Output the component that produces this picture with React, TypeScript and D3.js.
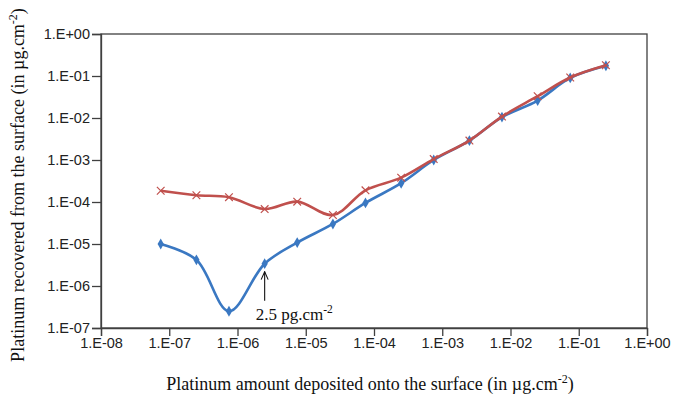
import { useRef, useEffect } from 'react'
import * as d3 from 'd3'

// deposited amount (µg.cm-2)
const deposited = [7.5e-8, 2.5e-7, 7.5e-7, 2.5e-6, 7.5e-6, 2.5e-5, 7.5e-5, 2.5e-4, 7.5e-4, 2.5e-3, 7.5e-3, 2.5e-2, 7.5e-2, 2.5e-1]
// recovered, blue series (diamonds)
const recoveredBlue = [1.0e-5, 4.2e-6, 2.5e-7, 3.4e-6, 1.08e-5, 3.0e-5, 9.5e-5, 2.8e-4, 1.0e-3, 2.9e-3, 1.05e-2, 2.6e-2, 9.0e-2, 1.75e-1]
// recovered, red series (crosses)
const recoveredRed = [1.85e-4, 1.45e-4, 1.3e-4, 6.8e-5, 1.02e-4, 4.9e-5, 1.9e-4, 3.8e-4, 1.05e-3, 2.9e-3, 1.08e-2, 3.3e-2, 9.2e-2, 1.8e-1]
const xTicks = [1e-8, 1e-7, 1e-6, 1e-5, 1e-4, 1e-3, 1e-2, 1e-1, 1]
const yTicks = [1e-7, 1e-6, 1e-5, 1e-4, 1e-3, 1e-2, 1e-1, 1]

const fmt = (v: number) => {
  const e = Math.round(Math.log10(v))
  const s = e < 0 ? '-' : '+'
  return `1.E${s}${String(Math.abs(e)).padStart(2, '0')}`
}

export default function App() {
  const svgRef = useRef<SVGSVGElement | null>(null)

  useEffect(() => {
    if (!svgRef.current) return
    const svg = d3.select(svgRef.current)
    svg.selectAll('*').remove()

    const left = 101, right = 647, top = 34, bottom = 328
    const x = d3.scaleLog().domain([1e-8, 1]).range([left, right])
    const y = d3.scaleLog().domain([1e-7, 1]).range([bottom, top])

    // frame
    svg.append('rect').attr('x', left).attr('y', top)
      .attr('width', right - left).attr('height', bottom - top)
      .attr('fill', 'none').attr('stroke', '#404040').attr('stroke-width', 1.3)

    const tickFont = 'Liberation Sans, Arial, sans-serif'
    const gy = svg.append('g').attr('transform', `translate(${left},0)`)
      .call(d3.axisLeft(y).tickValues(yTicks).tickFormat(d => fmt(+d)).tickSize(9).tickPadding(2))
    gy.select('.domain').attr('stroke', '#404040').attr('stroke-width', 1.3)
    gy.selectAll('line').attr('stroke', '#404040').attr('stroke-width', 1.3)
    gy.selectAll('text').attr('font-size', '14.5px').attr('font-family', tickFont).attr('fill', '#222')

    const gx = svg.append('g').attr('transform', `translate(0,${bottom})`)
      .call(d3.axisBottom(x).tickValues(xTicks).tickFormat(d => fmt(+d)).tickSize(8).tickPadding(2))
    gx.select('.domain').attr('stroke', '#404040').attr('stroke-width', 1.3)
    gx.selectAll('line').attr('stroke', '#404040').attr('stroke-width', 1.3)
    gx.selectAll('text').attr('font-size', '14.5px').attr('font-family', tickFont).attr('fill', '#222')

    const curve = d3.curveCatmullRom.alpha(0.5)
    const blue = '#3a78c2'
    const red = '#c0504d'

    // blue series
    const blueLine = d3.line<number>().x((_, i) => x(deposited[i])).y(d => y(d)).curve(curve)
    svg.append('path').datum(recoveredBlue).attr('d', blueLine)
      .attr('fill', 'none').attr('stroke', blue).attr('stroke-width', 2.6)
    const diamond = d3.symbol().type(d3.symbolDiamond).size(34)
    recoveredBlue.forEach((v, i) => {
      svg.append('path').attr('d', diamond()!)
        .attr('transform', `translate(${x(deposited[i])},${y(v)})`)
        .attr('fill', blue)
    })

    // red series
    const redLine = d3.line<number>().x((_, i) => x(deposited[i])).y(d => y(d)).curve(curve)
    svg.append('path').datum(recoveredRed).attr('d', redLine)
      .attr('fill', 'none').attr('stroke', red).attr('stroke-width', 2.6)
    const cross = d3.symbol().type(d3.symbolX).size(40)
    recoveredRed.forEach((v, i) => {
      svg.append('path').attr('d', cross()!)
        .attr('transform', `translate(${x(deposited[i])},${y(v)})`)
        .attr('fill', 'none').attr('stroke', red).attr('stroke-width', 1.2)
    })

    // annotation arrow at 2.5 pg.cm-2
    const ax = x(deposited[3])
    const ay = y(recoveredBlue[3])
    svg.append('defs').append('marker').attr('id', 'arr')
      .attr('viewBox', '0 0 10 10').attr('refX', 9).attr('refY', 5)
      .attr('markerWidth', 8).attr('markerHeight', 8).attr('orient', 'auto')
      .append('path').attr('d', 'M0,1 L9,5 L0,9').attr('fill', 'none').attr('stroke', '#111').attr('stroke-width', 1.2)
    svg.append('line').attr('x1', ax).attr('x2', ax).attr('y1', ay + 37).attr('y2', ay + 8)
      .attr('stroke', '#111').attr('stroke-width', 1.1).attr('marker-end', 'url(#arr)')
    const serif = 'Liberation Serif, Times New Roman, serif'
    const ann = svg.append('text').attr('x', ax - 9).attr('y', ay + 56)
      .attr('font-family', serif).attr('font-size', '17px').attr('fill', '#111')
    ann.append('tspan').text('2.5 pg.cm')
    ann.append('tspan').attr('dy', -7).attr('font-size', '11.5px').text('-2')

    // axis titles
    const xt = svg.append('text').attr('x', 370).attr('y', 390).attr('text-anchor', 'middle')
      .attr('font-family', serif).attr('font-size', '18px').attr('fill', '#111')
    xt.append('tspan').text('Platinum amount deposited onto the surface (in µg.cm')
    xt.append('tspan').attr('dy', -7).attr('font-size', '12px').text('-2')
    xt.append('tspan').attr('dy', 7).text(')')

    const yt = svg.append('text').attr('transform', 'rotate(-90)')
      .attr('x', -185).attr('y', 24).attr('text-anchor', 'middle')
      .attr('font-family', serif).attr('font-size', '18px').attr('fill', '#111')
    yt.append('tspan').text('Platinum recovered from the surface (in µg.cm')
    yt.append('tspan').attr('dy', -7).attr('font-size', '12px').text('-2')
    yt.append('tspan').attr('dy', 7).text(')')
  }, [])

  return (
    <svg ref={svgRef} width={673} height={395}
      style={{ position: 'absolute', left: 0, top: 0, background: '#fff' }} />
  )
}
